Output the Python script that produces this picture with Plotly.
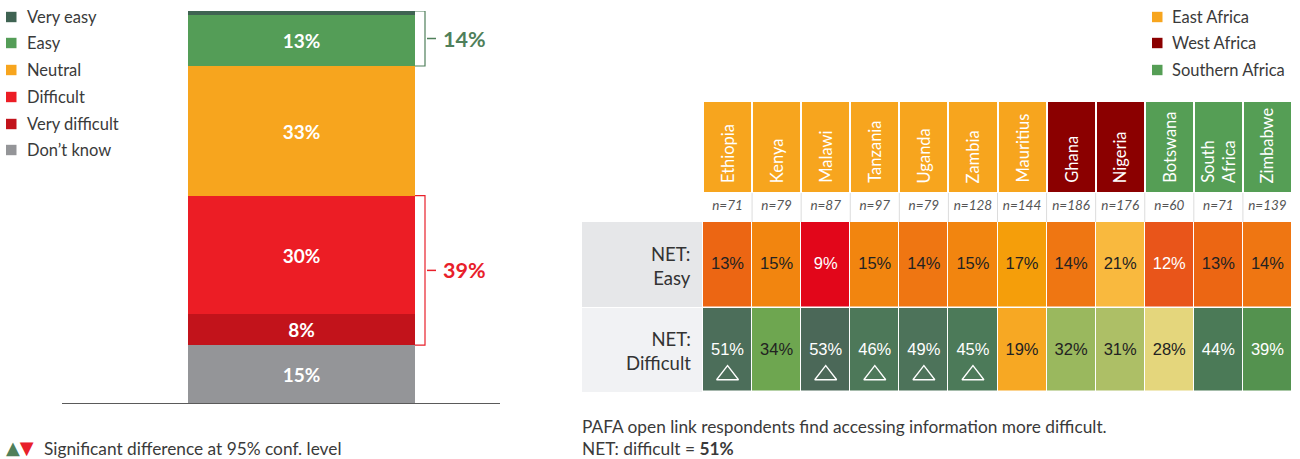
import plotly.graph_objects as go

# ---------------- DATA ----------------
levels = ["Very easy", "Easy", "Neutral", "Difficult", "Very difficult", "Don’t know"]
shares = [1, 13, 33, 30, 8, 15]
net_easy_total = 14
net_difficult_total = 39

countries = ["Ethiopia", "Kenya", "Malawi", "Tanzania", "Uganda", "Zambia", "Mauritius",
             "Ghana", "Nigeria", "Botswana", "South<br>Africa", "Zimbabwe"]
regions = ["East Africa", "East Africa", "East Africa", "East Africa", "East Africa",
           "East Africa", "East Africa", "West Africa", "West Africa",
           "Southern Africa", "Southern Africa", "Southern Africa"]
region_names = ["East Africa", "West Africa", "Southern Africa"]
sample_n = [71, 79, 87, 97, 79, 128, 144, 186, 176, 60, 71, 139]
net_easy = [13, 15, 9, 15, 14, 15, 17, 14, 21, 12, 13, 14]
net_difficult = [51, 34, 53, 46, 49, 45, 19, 32, 31, 28, 44, 39]
sig_higher = [True, False, True, True, True, True, False, False, False, False, False, False]
row_labels = ["NET:<br>Easy", "NET:<br>Difficult"]

# ---------------- STYLE ----------------
W, H = 1300, 459
FONT = "Lato"
NUMFONT = "Liberation Sans"
TXT = "#3a3a3a"
level_colors = {"Very easy": "#3f6352", "Easy": "#549d57", "Neutral": "#f7a51e",
                "Difficult": "#ec1d25", "Very difficult": "#c2131b", "Don’t know": "#949598"}
region_colors = {"East Africa": "#f7a51e", "West Africa": "#8b0000", "Southern Africa": "#559e55"}
easy_cell_colors = ["#ec6613", "#f2850f", "#e2061a", "#f2850f", "#ef7612", "#f2850f",
                    "#f59e0a", "#ef7612", "#f9b93e", "#e9551a", "#ec6613", "#ef7612"]
diff_cell_colors = ["#4c6e5a", "#6ea650", "#4b6858", "#4d7859", "#4d735a", "#4c7a59",
                    "#f7a823", "#9ab85e", "#adbf66", "#e4d67c", "#4b7a57", "#54924f"]
easy_text_colors = ["#222", "#222", "#fff", "#222", "#222", "#222",
                    "#222", "#222", "#222", "#fff", "#222", "#222"]
diff_text_colors = ["#fff", "#222", "#fff", "#fff", "#fff", "#fff",
                    "#222", "#222", "#222", "#222", "#fff", "#fff"]
GREEN_LBL = "#4f7f5a"
RED_LBL = "#e8202a"


def px(x):
    return x / W


def py(y):
    return 1 - y / H


fig = go.Figure()

# ---------------- LEFT STACKED BAR ----------------
bar_axis_left, bar_axis_right = 62, 500
bar_left, bar_right = 188, 415
span = bar_axis_right - bar_axis_left
x0 = -(((bar_left + bar_right) / 2) - bar_axis_left) / span
bar_w = (bar_right - bar_left) / span

for lvl, val in reversed(list(zip(levels, shares))):
    fig.add_trace(go.Bar(
        x=[0], y=[val], width=[bar_w], name=lvl,
        marker=dict(color=level_colors[lvl], line=dict(width=0)),
        text=["" if lvl == "Very easy" else f"{val}%"],
        textposition="inside", insidetextanchor="middle", textangle=0,
        textfont=dict(family=FONT, size=19, color="white", weight="bold"),
        hoverinfo="skip", showlegend=False, xaxis="x", yaxis="y"))

# baseline
fig.add_shape(type="line", xref="paper", yref="y", x0=px(bar_axis_left), x1=px(bar_axis_right),
              y0=0, y1=0, line=dict(color="#5a5a5a", width=2))

# brackets
cum_top = sum(shares)
easy_bottom = cum_top - shares[0] - shares[1]
diff_top = shares[5] + shares[4] + shares[3]
diff_bottom = shares[5]
bx_in, bx_out, tick_end, lbl_x = 415, 425, 436, 441
for (ytop, ybot, col, lab) in [(cum_top, easy_bottom, GREEN_LBL, net_easy_total),
                              (diff_top, diff_bottom, RED_LBL, net_difficult_total)]:
    path = (f"M {px(bx_in)} {ytop} L {px(bx_out)} {ytop} L {px(bx_out)} {ybot} L {px(bx_in)} {ybot}")
    fig.add_shape(type="path", xref="paper", yref="y", path=path, line=dict(color=col, width=1.2))
    ym = (ytop + ybot) / 2
    fig.add_shape(type="line", xref="paper", yref="y", x0=px(bx_out + 2), x1=px(tick_end),
                  y0=ym, y1=ym, line=dict(color=col, width=1.5))
    fig.add_annotation(xref="paper", yref="y", x=px(lbl_x), y=ym, text=f"<b>{lab}%</b>",
                       showarrow=False, xanchor="left", yanchor="middle",
                       font=dict(family=FONT, size=21.5, color=col))

# left legend
leg_y = [17, 43, 70, 97, 124, 150]
for lvl, yy in zip(levels, leg_y):
    fig.add_shape(type="rect", xref="paper", yref="paper", x0=px(6), x1=px(16.5),
                  y0=py(yy - 5.2), y1=py(yy + 5.2), fillcolor=level_colors[lvl], line=dict(width=0))
    fig.add_annotation(xref="paper", yref="paper", x=px(25), y=py(yy), text=lvl, showarrow=False,
                       xanchor="left", yanchor="middle", font=dict(family=FONT, size=16.5, color=TXT))

# region legend
reg_y = [17, 43, 70]
for reg, yy in zip(region_names, reg_y):
    fig.add_shape(type="rect", xref="paper", yref="paper", x0=px(1152), x1=px(1162.5),
                  y0=py(yy - 5.2), y1=py(yy + 5.2), fillcolor=region_colors[reg], line=dict(width=0))
    fig.add_annotation(xref="paper", yref="paper", x=px(1170), y=py(yy), text=reg, showarrow=False,
                       xanchor="left", yanchor="middle", font=dict(family=FONT, size=16.5, color=TXT))

# ---------------- HEATMAP TABLE ----------------
grid_top, grid_bottom = 102, 392
ROW_EDGES = [0, 90, 120, 206, 290]   # header, n-row, easy, difficult (layout units)
ncol = len(countries)
cols = list(range(ncol))

# header
reg_idx = [region_names.index(r) for r in regions]
fig.add_trace(go.Heatmap(
    z=[reg_idx], x=cols, y=ROW_EDGES[0:2], zmin=0, zmax=2,
    colorscale=[[0, region_colors[region_names[0]]], [0.5, region_colors[region_names[1]]],
                [1, region_colors[region_names[2]]]],
    showscale=False, xgap=2, hoverinfo="skip", xaxis="x2", yaxis="y2"))
for i, c in enumerate(countries):
    fig.add_annotation(xref="x2", yref="y2", x=i, y=ROW_EDGES[1] - 7, text=c, textangle=-90,
                       showarrow=False, xanchor="center", yanchor="bottom",
                       font=dict(family=FONT, size=16.5, color="white"))

# n row
fig.add_trace(go.Heatmap(
    z=[[0] * ncol], x=cols, y=ROW_EDGES[1:3], zmin=0, zmax=1,
    colorscale=[[0, "white"], [1, "white"]], showscale=False, hoverinfo="skip",
    xaxis="x2", yaxis="y2"))
for i in range(ncol - 1):
    fig.add_shape(type="line", xref="x2", yref="y2", x0=i + 0.5, x1=i + 0.5,
                  y0=ROW_EDGES[1] + 1, y1=ROW_EDGES[2], line=dict(color="#dcdcdc", width=1))
fig.add_trace(go.Scatter(
    x=cols, y=[(ROW_EDGES[1] + ROW_EDGES[2]) / 2] * ncol, mode="text",
    text=[f"<i>n={n}</i>" for n in sample_n],
    textfont=dict(family=FONT, size=13.5, color="#555555"),
    hoverinfo="skip", showlegend=False, cliponaxis=False, xaxis="x2", yaxis="y2"))

# data cells
all_colors = easy_cell_colors + diff_cell_colors
ncell = len(all_colors)
cscale = [[k / (ncell - 1), col] for k, col in enumerate(all_colors)]
zidx = [list(range(ncol)), list(range(ncol, 2 * ncol))]
fig.add_trace(go.Heatmap(
    z=zidx, x=cols, y=ROW_EDGES[2:5], zmin=0, zmax=ncell - 1, colorscale=cscale,
    showscale=False, xgap=1, ygap=1.5, hoverinfo="skip", xaxis="x2", yaxis="y2"))

easy_mid = (ROW_EDGES[2] + ROW_EDGES[3]) / 2
diff_mid = (ROW_EDGES[3] + ROW_EDGES[4]) / 2
fig.add_trace(go.Scatter(
    x=cols, y=[easy_mid] * ncol, mode="text", text=[f"{v}%" for v in net_easy],
    textfont=dict(family=NUMFONT, size=16.5, color=easy_text_colors),
    hoverinfo="skip", showlegend=False, cliponaxis=False, xaxis="x2", yaxis="y2"))
fig.add_trace(go.Scatter(
    x=cols, y=[diff_mid + 1] * ncol, mode="text", text=[f"{v}%" for v in net_difficult],
    textfont=dict(family=NUMFONT, size=16.5, color=diff_text_colors),
    hoverinfo="skip", showlegend=False, cliponaxis=False, xaxis="x2", yaxis="y2"))
sig_x = [i for i in cols if sig_higher[i]]
fig.add_trace(go.Scatter(
    x=sig_x, y=[diff_mid + 25] * len(sig_x), mode="markers",
    marker=dict(symbol="triangle-up-open", size=19, color="white", line=dict(color="white", width=1.3)),
    hoverinfo="skip", showlegend=False, cliponaxis=False, xaxis="x2", yaxis="y2"))

# row label backgrounds + labels
lab_left, lab_right = 582, 702
row_px = [(222, 307, "#e6e7e9"), (308, 392, "#f1f2f4")]
for (y0p, y1p, col), lab in zip(row_px, row_labels):
    fig.add_shape(type="rect", xref="paper", yref="paper", x0=px(lab_left), x1=px(lab_right),
                  y0=py(y1p), y1=py(y0p), fillcolor=col, line=dict(width=0), layer="below")
    fig.add_annotation(xref="paper", yref="paper", x=px(693), y=py((y0p + y1p) / 2 + 1), text=lab,
                       showarrow=False, xanchor="right", yanchor="middle", align="right",
                       font=dict(family=FONT, size=18.5, color="#333333"))

# ---------------- FOOTNOTES ----------------
fig.add_annotation(xref="paper", yref="paper", x=px(4), y=py(447),
                   text=f"<span style='color:{GREEN_LBL}'>▲</span><span style='color:{RED_LBL}'>▼</span>",
                   showarrow=False, xanchor="left", yanchor="middle",
                   font=dict(family="DejaVu Sans", size=18))
fig.add_annotation(xref="paper", yref="paper", x=px(42), y=py(448),
                   text="Significant difference at 95% conf. level", showarrow=False,
                   xanchor="left", yanchor="middle", font=dict(family=FONT, size=17.3, color=TXT))
fig.add_annotation(xref="paper", yref="paper", x=px(580), y=py(437),
                   text="PAFA open link respondents find accessing information more difficult.<br>"
                        f"NET: difficult = <b>{net_difficult[0]}%</b>",
                   showarrow=False, xanchor="left", yanchor="middle", align="left",
                   font=dict(family=FONT, size=17.3, color=TXT))

# ---------------- LAYOUT ----------------
fig.update_layout(
    width=W, height=H, margin=dict(l=0, r=0, t=0, b=0),
    paper_bgcolor="white", plot_bgcolor="rgba(0,0,0,0)",
    barmode="stack", bargap=0, showlegend=False,
    xaxis=dict(domain=[px(bar_axis_left), px(bar_axis_right)], range=[x0, x0 + 1],
               visible=False, fixedrange=True),
    yaxis=dict(domain=[py(404), py(11)], range=[0, sum(shares)], visible=False, fixedrange=True),
    xaxis2=dict(domain=[px(703), px(1292)], range=[-0.5, ncol - 0.5], visible=False,
                anchor="y2", fixedrange=True),
    yaxis2=dict(domain=[py(grid_bottom), py(grid_top)], range=[ROW_EDGES[-1], ROW_EDGES[0]],
                visible=False, anchor="x2", fixedrange=True),
)

fig.write_html("out.html", config={"displayModeBar": False},
               post_script="document.body.style.margin='0px';document.body.style.overflow='hidden';")
